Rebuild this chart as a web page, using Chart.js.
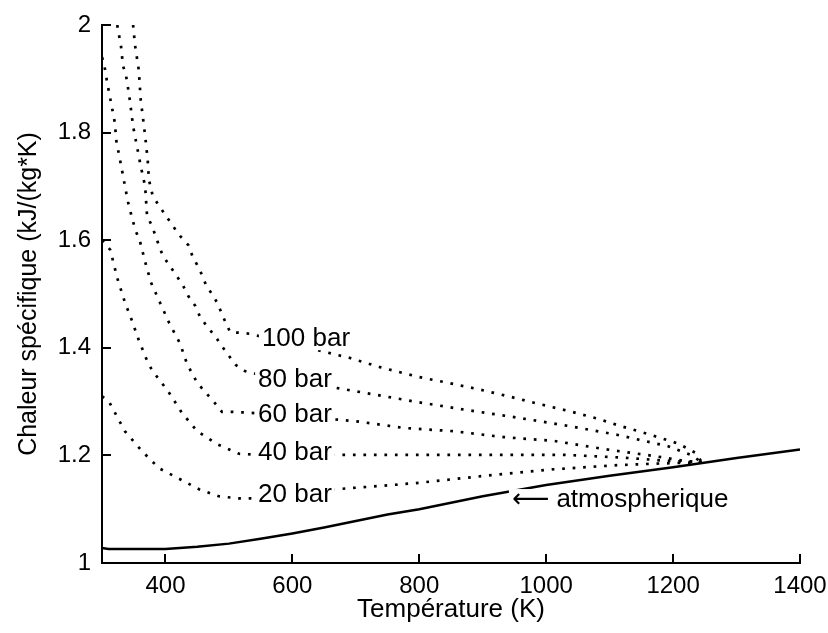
<!DOCTYPE html>
<html>
<head>
<meta charset="utf-8">
<script src="https://cdn.jsdelivr.net/npm/chart.js@4.4.0/dist/chart.umd.min.js"></script>
<style>
    html, body { margin: 0; padding: 0; background: #fff; }
</style>
</head>
<body>
<canvas id="myChart" width="828" height="633"></canvas>
<script>
// Tick values of both axes
var xTicks = [400, 600, 800, 1000, 1200, 1400];
var yTicks = [1, 1.2, 1.4, 1.6, 1.8, 2];

// Atmospheric pressure (solid line)
var tAtm = [300, 310, 400, 450, 500, 550, 600, 650, 700, 750, 800, 900, 1000, 1100, 1200, 1300, 1400];
var cpAtm = [1.028, 1.026, 1.026, 1.030, 1.036, 1.045, 1.055, 1.066, 1.078, 1.090, 1.100, 1.124, 1.145, 1.162, 1.178, 1.195, 1.211];

// 20 bar
var t20 = [300, 311, 336, 363, 390, 421, 453, 484, 516, 547, 600, 667, 736, 799, 903, 1009, 1114, 1180, 1245];
var cp20 = [1.31, 1.30, 1.245, 1.208, 1.176, 1.157, 1.137, 1.124, 1.120, 1.120, 1.126, 1.137, 1.143, 1.149, 1.162, 1.174, 1.182, 1.185, 1.187];

// 40 bar
var t40 = [300, 313, 324, 336, 347, 358, 371, 379, 394, 406, 426, 450, 481, 516, 547, 700, 900, 1030, 1120, 1190, 1245];
var cp40 = [1.60, 1.582, 1.53, 1.485, 1.451, 1.414, 1.376, 1.358, 1.335, 1.316, 1.279, 1.245, 1.221, 1.203, 1.201, 1.201, 1.201, 1.201, 1.196, 1.190, 1.187];

// 60 bar
var t60 = [300, 303, 308, 314, 320, 323, 326, 332, 335, 341, 349, 354, 360, 368, 377, 391, 406, 423, 434, 450, 464, 478, 489, 505, 536, 697, 776, 854, 933, 1012, 1090, 1169, 1216, 1245];
var cp60 = [1.94, 1.93, 1.894, 1.857, 1.82, 1.78, 1.764, 1.727, 1.708, 1.671, 1.634, 1.615, 1.597, 1.56, 1.522, 1.485, 1.446, 1.408, 1.37, 1.335, 1.316, 1.297, 1.281, 1.281, 1.279, 1.264, 1.251, 1.245, 1.234, 1.227, 1.212, 1.199, 1.190, 1.187];

// 80 bar
var t80 = [324, 330, 333, 338, 343, 349, 355, 361, 368, 371, 379, 390, 396, 407, 418, 428, 436, 447, 454, 465, 478, 489, 500, 511, 525, 536, 686, 735, 798, 877, 956, 1034, 1113, 1192, 1230, 1245];
var cp80 = [2.0, 1.96, 1.925, 1.905, 1.868, 1.812, 1.775, 1.738, 1.70, 1.645, 1.626, 1.589, 1.571, 1.552, 1.533, 1.515, 1.496, 1.478, 1.459, 1.44, 1.422, 1.403, 1.385, 1.368, 1.357, 1.353, 1.322, 1.312, 1.299, 1.284, 1.27, 1.255, 1.238, 1.217, 1.200, 1.187];

// 100 bar
var t100 = [349, 352, 358, 361, 365, 368, 372, 374, 380, 390, 401, 412, 423, 436, 443, 450, 459, 465, 475, 483, 491, 502, 517, 533, 691, 738, 798, 845, 893, 940, 987, 1034, 1082, 1113, 1160, 1208, 1235, 1245];
var cp100 = [2.0, 1.963, 1.916, 1.861, 1.823, 1.794, 1.749, 1.712, 1.682, 1.664, 1.645, 1.626, 1.608, 1.591, 1.569, 1.554, 1.532, 1.513, 1.498, 1.48, 1.457, 1.429, 1.428, 1.426, 1.381, 1.364, 1.346, 1.335, 1.323, 1.31, 1.296, 1.283, 1.268, 1.256, 1.24, 1.222, 1.205, 1.188];

// Curve labels: text, anchor temperature, anchor value
var labelTexts = ['100 bar', '80 bar', '60 bar', '40 bar', '20 bar', '\u27F5 atmospherique'];
var labelT = [552, 546, 546, 546, 546, 946];
var labelCp = [1.416, 1.340, 1.275, 1.204, 1.126, 1.117];

function toPoints(ts, vs) {
    return ts.map(function (t, i) { return { x: t, y: vs[i] }; });
}

function dotted(label, ts, vs) {
    return {
        label: label,
        data: toPoints(ts, vs),
        borderColor: '#000',
        borderWidth: 2.7,
        borderDash: [2.7, 7.8],
        borderCapStyle: 'butt',
        pointRadius: 0,
        tension: 0
    };
}

var FONT = "'Liberation Sans', 'DejaVu Sans', Arial, sans-serif";

// MATLAB style ticks pointing into the plot
var inwardTicks = {
    id: 'inwardTicks',
    afterDraw: function (chart) {
        var ctx = chart.ctx, a = chart.chartArea;
        var xs = chart.scales.x, ys = chart.scales.y;
        ctx.save();
        ctx.strokeStyle = '#000';
        ctx.lineWidth = 2;
        xTicks.forEach(function (t) {
            var px = Math.round(xs.getPixelForValue(t));
            ctx.beginPath();
            ctx.moveTo(px, a.bottom);
            ctx.lineTo(px, a.bottom - 9);
            ctx.stroke();
        });
        yTicks.forEach(function (v) {
            var py = Math.round(ys.getPixelForValue(v));
            ctx.beginPath();
            ctx.moveTo(a.left, py);
            ctx.lineTo(a.left + 9, py);
            ctx.stroke();
        });
        ctx.restore();
    }
};

// text labels next to the curves
var curveLabels = {
    id: 'curveLabels',
    afterDatasetsDraw: function (chart) {
        var ctx = chart.ctx;
        var xs = chart.scales.x, ys = chart.scales.y;
        ctx.save();
        ctx.font = '26px ' + FONT;
        ctx.textBaseline = 'middle';
        ctx.textAlign = 'left';
        labelTexts.forEach(function (txt, i) {
            var px = xs.getPixelForValue(labelT[i]);
            var py = ys.getPixelForValue(labelCp[i]);
            var w = ctx.measureText(txt).width;
            ctx.fillStyle = '#fff';
            ctx.fillRect(px - 3, py - 11, w + 6, 22);
            ctx.fillStyle = '#000';
            ctx.fillText(txt, px, py);
        });
        ctx.restore();
    }
};

var ctx = document.getElementById('myChart').getContext('2d');
var myChart = new Chart(ctx, {
    type: 'line',
    data: {
        datasets: [
            {
                label: 'atmospherique',
                data: toPoints(tAtm, cpAtm),
                borderColor: '#000',
                borderWidth: 2.5,
                pointRadius: 0,
                tension: 0
            },
            dotted('20 bar', t20, cp20),
            dotted('40 bar', t40, cp40),
            dotted('60 bar', t60, cp60),
            dotted('80 bar', t80, cp80),
            dotted('100 bar', t100, cp100)
        ]
    },
    options: {
        responsive: false,
        animation: false,
        devicePixelRatio: 1,
        layout: {
            padding: { top: 25, right: 28, left: 0, bottom: 0 }
        },
        plugins: {
            legend: { display: false },
            tooltip: { enabled: false }
        },
        scales: {
            x: {
                type: 'linear',
                min: 300,
                max: 1400,
                afterBuildTicks: function (scale) {
                    scale.ticks = xTicks.map(function (v) { return { value: v }; });
                },
                afterFit: function (scale) {
                    scale.height = 70;
                    scale.paddingLeft = 0;
                    scale.paddingRight = 0;
                },
                grid: { display: false, drawTicks: false },
                border: { display: true, color: '#000', width: 2 },
                ticks: {
                    color: '#000',
                    padding: 9,
                    maxRotation: 0,
                    callback: function (v) { return String(v); },
                    font: { family: FONT, size: 24 }
                },
                title: {
                    display: true,
                    text: 'Température (K)',
                    color: '#000',
                    padding: { top: 0, bottom: 8 },
                    font: { family: FONT, size: 26 }
                }
            },
            y: {
                type: 'linear',
                min: 1,
                max: 2,
                afterBuildTicks: function (scale) {
                    scale.ticks = yTicks.map(function (v) { return { value: v }; });
                },
                afterFit: function (scale) {
                    scale.width = 102;
                    scale.paddingTop = 0;
                    scale.paddingBottom = 0;
                },
                grid: { display: false, drawTicks: false },
                border: { display: true, color: '#000', width: 2 },
                ticks: {
                    color: '#000',
                    padding: 11,
                    callback: function (v) { return String(v); },
                    font: { family: FONT, size: 24 }
                },
                title: {
                    display: true,
                    text: 'Chaleur spécifique (kJ/(kg*K)',
                    color: '#000',
                    padding: { top: 14, bottom: 0 },
                    font: { family: FONT, size: 25 }
                }
            }
        }
    },
    plugins: [inwardTicks, curveLabels]
});
</script>
</body>
</html>
